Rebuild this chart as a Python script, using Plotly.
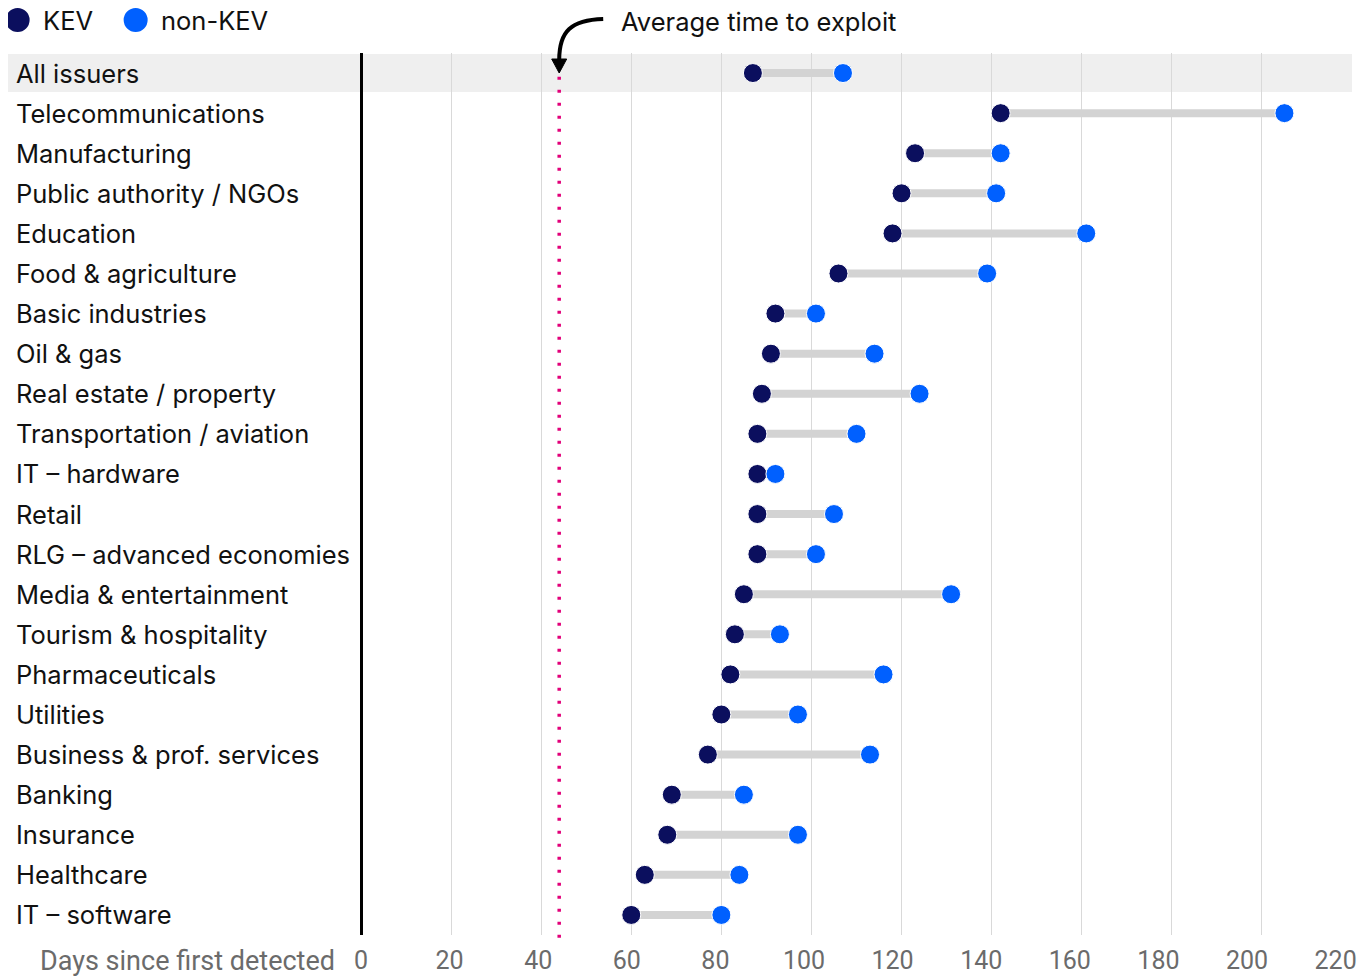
import plotly.graph_objects as go

categories = [
    "All issuers", "Telecommunications", "Manufacturing", "Public authority / NGOs",
    "Education", "Food & agriculture", "Basic industries", "Oil & gas",
    "Real estate / property", "Transportation / aviation", "IT – hardware", "Retail",
    "RLG – advanced economies", "Media & entertainment", "Tourism & hospitality",
    "Pharmaceuticals", "Utilities", "Business & prof. services", "Banking",
    "Insurance", "Healthcare", "IT – software",
]
kev = [87, 142, 123, 120, 118, 106, 92, 91, 89, 88, 88, 88, 88, 85, 83, 82, 80, 77, 69, 68, 63, 60]
non_kev = [107, 205, 142, 141, 161, 139, 101, 114, 124, 110, 92, 105, 101, 131, 93, 116, 97, 113, 85, 97, 84, 80]
avg_days = 44
x_ticks = [0, 20, 40, 60, 80, 100, 120, 140, 160, 180, 200, 220]

KEV_COL = "#0b0f5e"
NON_COL = "#0060ff"
FONT = "Inter"
FS = 25.5

fig = go.Figure()

# grey connectors
cx, cy = [], []
for c, a, b in zip(categories, kev, non_kev):
    cx += [a, b, None]
    cy += [c, c, None]
fig.add_trace(go.Scatter(x=cx, y=cy, mode="lines", line=dict(color="#d3d3d3", width=8),
                         hoverinfo="skip", showlegend=False))

fig.add_trace(go.Scatter(x=kev, y=categories, mode="markers", name="KEV",
                         marker=dict(size=19, color=KEV_COL, line=dict(color="white", width=1)),
                         showlegend=False))
fig.add_trace(go.Scatter(x=non_kev, y=categories, mode="markers", name="non-KEV",
                         marker=dict(size=19, color=NON_COL, line=dict(color="white", width=1)),
                         showlegend=False))
# the tick labels sit on a slightly tighter scale than the grid in the original
fig.add_trace(go.Scatter(x=[0], y=[categories[0]], xaxis="x2", mode="markers",
                         marker=dict(opacity=0), hoverinfo="skip", showlegend=False))

shapes = [
    # highlight band for "All issuers"
    dict(type="rect", xref="paper", yref="y", x0=-0.357, x1=1, y0=-0.475, y1=0.475,
         fillcolor="#efefef", line_width=0, layer="below"),
    # average line
    dict(type="line", xref="x", yref="paper", x0=avg_days, x1=avg_days, y0=-0.003, y1=0.973,
         line=dict(color="#e2007a", width=3.5, dash="3px,10px")),
    # curved arrow
    dict(type="path", xref="x", yref="paper", xsizemode="pixel", ysizemode="pixel",
         xanchor=avg_days, yanchor=1, path="M 44,34 C 12,33 0,22 0,-7",
         line=dict(color="black", width=4)),
    dict(type="path", xref="x", yref="paper", xsizemode="pixel", ysizemode="pixel",
         xanchor=avg_days, yanchor=1, path="M -7.5,-6 L 7.5,-6 L 0,-20 Z",
         fillcolor="black", line=dict(color="black", width=1)),
]

annotations = []
for i, c in enumerate(categories):
    annotations.append(dict(x=-0.3505, xref="paper", y=c, yref="y", text=c, showarrow=False,
                            xanchor="left", yanchor="middle",
                            font=dict(family=FONT, size=FS, color="#111")))

annotations.append(dict(x=avg_days, xref="x", y=1, yref="paper", xshift=60, yshift=32,
                        text="Average time to exploit", showarrow=False, xanchor="left",
                        yanchor="middle", font=dict(family=FONT, size=FS, color="#111")))
annotations.append(dict(x=0, xref="paper", y=0, yref="paper", xshift=-24, yshift=-26,
                        text="Days since first detected", showarrow=False, xanchor="right",
                        yanchor="middle", font=dict(family="Roboto", size=27, color="#6b6b6b")))

# legend drawn by hand
for lx, label, col in [(-0.3465, "KEV", KEV_COL), (-0.2274, "non-KEV", NON_COL)]:
    shapes.append(dict(type="circle", xref="paper", yref="paper", xsizemode="pixel",
                       ysizemode="pixel", xanchor=lx, yanchor=1.0374, x0=-12, x1=12, y0=-12, y1=12,
                       fillcolor=col, line_width=0))
    annotations.append(dict(x=lx, xref="paper", y=1.0374, yref="paper", xshift=23, text=label,
                            showarrow=False, xanchor="left", yanchor="middle",
                            font=dict(family=FONT, size=FS, color="#111")))

# page body adds an 8px offset, so the figure is 8px smaller and margins shifted
fig.update_layout(
    width=1362, height=969,
    margin=dict(l=353, r=18, t=45, b=42),
    plot_bgcolor="white", paper_bgcolor="white",
    shapes=shapes, annotations=annotations,
    showlegend=False,
    xaxis=dict(range=[0, 220], tickvals=x_ticks, showgrid=True, gridcolor="#d9d9d9", gridwidth=1,
               zeroline=True, zerolinecolor="black", zerolinewidth=3,
               showticklabels=False, ticks="", automargin=False, fixedrange=True),
    xaxis2=dict(overlaying="x", anchor="y", side="bottom", range=[0, 223.7], tickvals=x_ticks,
                showgrid=False, zeroline=False, showline=False, ticks="",
                tickfont=dict(family="Roboto", size=25, color="#6b6b6b"),
                ticklabelstandoff=8, ticklabeloverflow="allow", automargin=False,
                fixedrange=True),
    yaxis=dict(categoryorder="array", categoryarray=categories, range=[21.5, -0.5],
               showticklabels=False, showgrid=False, zeroline=False, automargin=False,
               fixedrange=True),
)

fig.write_html("out.html")
